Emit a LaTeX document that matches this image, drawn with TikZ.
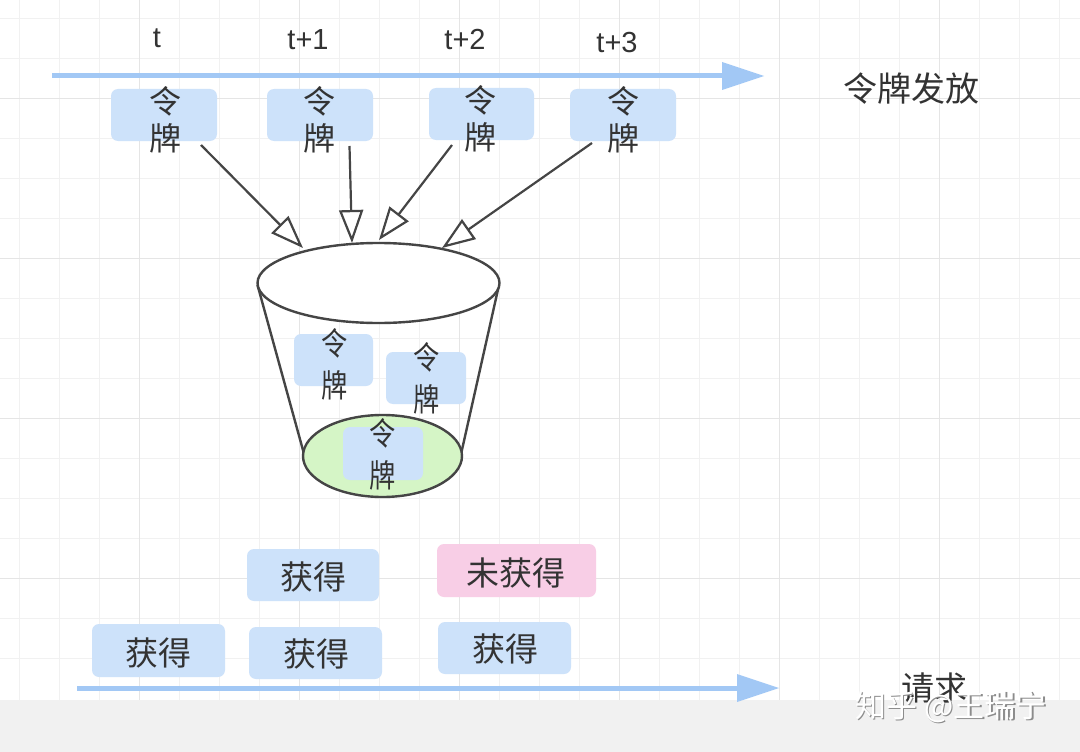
\documentclass[tikz,border=0pt]{standalone}
\usepackage{fontspec}
\setmainfont{Liberation Sans}
\newfontfamily\cjk{Noto Sans CJK SC}
\usetikzlibrary{arrows.meta,shapes.geometric}
\definecolor{gridlight}{HTML}{F1F1F1}
\definecolor{griddark}{HTML}{E5E5E5}
\definecolor{bandgray}{HTML}{F1F1F1}
\definecolor{tokblue}{HTML}{CDE2FA}
\definecolor{tokpink}{HTML}{F8CEE6}
\definecolor{bucketgreen}{HTML}{D5F5C6}
\definecolor{arrowblue}{HTML}{A2C8F5}
\definecolor{arrowgray}{HTML}{454545}
\definecolor{txt}{HTML}{333333}
\begin{document}
\begin{tikzpicture}[x=1pt,y=-1pt,
  tokbox/.style={fill=tokblue, rounded corners=7pt, inner sep=0pt, minimum height=52pt},
  pinkbox/.style={fill=tokpink, rounded corners=7pt, inner sep=0pt, minimum height=53pt},
  toktxt/.style={font=\cjk\fontsize{32}{37}\selectfont, text=txt, align=center, inner sep=0pt},
  intxt/.style={font=\cjk\fontsize{32}{42}\selectfont, text=txt, align=center, inner sep=0pt},
  gettxt/.style={font=\cjk\fontsize{33}{40}\selectfont, text=txt, inner sep=0pt},
  tlabel/.style={font=\fontsize{29}{34}\selectfont, text=txt, inner sep=0pt, anchor=base},
  bluearrow/.style={draw=arrowblue, line width=5pt, -{Triangle[length=42pt,width=28pt,line width=0pt,fill=arrowblue]}},
  tokarrow/.style={draw=arrowgray, line width=2.2pt, -{Triangle[length=33pt,width=24pt,fill=white]}},
  bucketline/.style={draw=arrowgray, line width=2.4pt}
]
\useasboundingbox (0,0) rectangle (1080,752);
\fill[white] (0,0) rectangle (1080,752);
% grid
\foreach \x in {19.5,59.5,...,1059.5} \draw[gridlight, line width=1.5pt] (\x,0) -- (\x,700);
\foreach \y in {18.5,58.5,...,660} \draw[gridlight, line width=1.5pt] (0,\y) -- (1080,\y);
\foreach \x in {139.5,299.5,...,940} \draw[griddark, line width=1.5pt] (\x,0) -- (\x,700);
\foreach \y in {98.5,258.5,...,580} \draw[griddark, line width=1.5pt] (0,\y) -- (1080,\y);
\fill[bandgray] (0,700) rectangle (1080,752);

% top time axis
\coordinate (ta0) at (52,76);
\coordinate (ta1) at (764,76);
\draw[bluearrow] (ta0) -- (ta1);
\node[tlabel] (lt0) at (157,48) {t};
\node[tlabel] (lt1) at (308,50) {t+1};
\node[tlabel] (lt2) at (465,50) {t+2};
\node[tlabel] (lt3) at (617,53) {t+3};
\node[font=\cjk\fontsize{34}{40}\selectfont, text=txt, inner sep=0pt] (issue) at (911,89) {令牌发放};

% top tokens
\node[tokbox, minimum width=106pt] (k1) at (164,115) {};
\node[tokbox, minimum width=106pt] (k2) at (320,115) {};
\node[tokbox, minimum width=105pt] (k3) at (481.5,114) {};
\node[tokbox, minimum width=106pt] (k4) at (623,115) {};
\node[toktxt] (k1t) at (165,119.5) {令\\牌};
\node[toktxt] (k2t) at (319,119.5) {令\\牌};
\node[toktxt] (k3t) at (480,119) {令\\牌};
\node[toktxt] (k4t) at (623,119.5) {令\\牌};

% bucket
\draw[bucketline] (257.5,285) -- (303.5,452);
\draw[bucketline] (499,285) -- (461.5,452);
\node[ellipse, draw=arrowgray, line width=2.4pt, fill=bucketgreen, inner sep=0pt,
      minimum width=159pt, minimum height=82pt] (bottom) at (382.5,456) {};
\node[ellipse, draw=arrowgray, line width=2.4pt, fill=white, inner sep=0pt,
      minimum width=242pt, minimum height=80pt] (bucket) at (378.5,283) {};

% arrows into bucket
\coordinate (e1) at (303,248);
\coordinate (e2) at (352,243);
\coordinate (e3) at (379,240);
\coordinate (e4) at (442,248);
\coordinate (s1) at (201,145);
\coordinate (s2) at (349.5,146);
\coordinate (s3) at (452,145);
\coordinate (s4) at (592,143);
\draw[tokarrow] (s1) -- (e1);
\draw[tokarrow] (s2) -- (e2);
\draw[tokarrow] (s3) -- (e3);
\draw[tokarrow] (s4) -- (e4);

% tokens in bucket
\node[tokbox, minimum width=79pt] (b1) at (333.5,360) {};
\node[tokbox, minimum width=80pt] (b2) at (426,378) {};
\node[tokbox, minimum width=80pt, minimum height=53pt] (b3) at (383,453.5) {};
\node[intxt] (b1t) at (335,364) {\scalebox{0.82}[1]{令}\\\scalebox{0.82}[1]{牌}};
\node[intxt] (b2t) at (427,378.5) {\scalebox{0.82}[1]{令}\\\scalebox{0.82}[1]{牌}};
\node[intxt] (b3t) at (383,454) {\scalebox{0.82}[1]{令}\\\scalebox{0.82}[1]{牌}};

% requests
\node[tokbox, minimum width=132pt] (g1) at (313,575) {};
\node[gettxt] (g1t) at (313,576.5) {获得};
\node[pinkbox, minimum width=159pt] (p1) at (516.5,570.5) {};
\node[gettxt] (p1t) at (516,572.5) {未获得};
\node[tokbox, minimum width=133pt, minimum height=53pt] (g2) at (158.5,650.5) {};
\node[gettxt] (g2t) at (158.5,652.5) {获得};
\node[tokbox, minimum width=133pt] (g3) at (315.5,653) {};
\node[gettxt] (g3t) at (316,654) {获得};
\node[tokbox, minimum width=133pt] (g4) at (504.5,648) {};
\node[gettxt] (g4t) at (505.5,649) {获得};

% bottom request axis
\coordinate (ra0) at (77,688);
\coordinate (ra1) at (779,688);
\draw[bluearrow] (ra0) -- (ra1);
\node[font=\cjk\fontsize{33}{40}\selectfont, text=txt, inner sep=0pt] (req) at (934,688) {请求};

% watermark
\node[font=\cjk\fontsize{31}{36}\selectfont, text=black!45, inner sep=0pt] (wms) at (952.5,708.5) {知乎 @王瑞宁};
\node[font=\cjk\fontsize{31}{36}\selectfont, text=white, inner sep=0pt] (wm) at (951,707) {知乎 @王瑞宁};
\end{tikzpicture}
\end{document}
